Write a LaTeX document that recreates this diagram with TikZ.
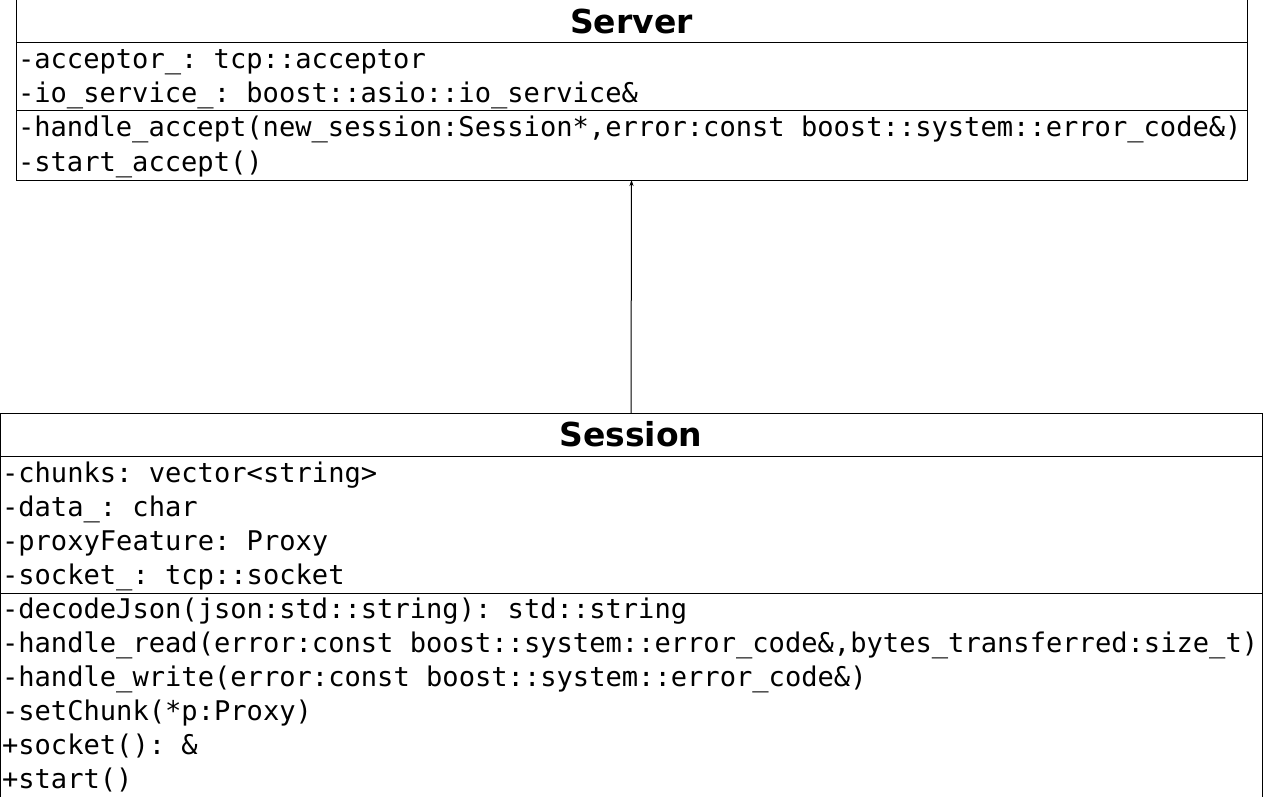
\documentclass[tikz,border=0pt]{standalone}
\usepackage{fontspec}
\setmainfont{DejaVu Sans}
\setmonofont{DejaVu Sans Mono}
\usetikzlibrary{positioning,arrows.meta}
\newskip\ttgap
\ttgap=16.31pt
\tikzset{
  titlebox/.style={draw,line width=1pt,outer sep=0pt,minimum height=43pt,
    font=\bfseries\fontsize{33}{36}\selectfont},
  memberbox/.style={draw,line width=1pt,outer sep=0pt,inner xsep=2pt,inner ysep=0pt,align=left,
    font=\ttfamily\fontsize{27.1}{34}\selectfont,
    execute at begin node={\spaceskip=\ttgap\xspaceskip=\ttgap}}
}
\def\titlenode{\node[titlebox]}
\def\membernode{\node[memberbox]}
\def\topstrut{\rule{0pt}{25.5pt}}
\def\botstrut{\rule[-8.5pt]{0pt}{8.5pt}}

\begin{document}
\begin{tikzpicture}[x=1pt,y=-1pt]
\useasboundingbox (0,0) rectangle (1263,797);
% Server class
\titlenode[minimum width=1231pt] (server) at (631.5,21.5) {Server};
\membernode[minimum width=1231pt,text width=1227pt,minimum height=68pt,below=0pt of server] (serverattr)
  {\topstrut-acceptor\_: tcp::acceptor\\-io\_service\_: boost::asio::io\_service\&\botstrut};
\membernode[minimum width=1231pt,text width=1227pt,minimum height=69pt,below=0pt of serverattr] (serverops)
  {\topstrut-handle\_accept(new\_session:Session*,error:const boost::system::error\_code\&)\\-start\_accept()\botstrut};
% Session class
\titlenode[minimum width=1262pt] (session) at (631,434.5) {Session};
\membernode[minimum width=1262pt,text width=1258pt,minimum height=137pt,below=0pt of session] (sessionattr)
  {\topstrut-chunks: vector<string>\\-data\_: char\\-proxyFeature: Proxy\\-socket\_: tcp::socket\botstrut};
\membernode[minimum width=1262pt,text width=1258pt,minimum height=236pt,below=0pt of sessionattr] (sessionops)
  {\topstrut-decodeJson(json:std::string): std::string\\
   -handle\_read(error:const boost::system::error\_code\&,bytes\_transferred:size\_t)\\
   -handle\_write(error:const boost::system::error\_code\&)\\
   -setChunk(*p:Proxy)\\
   +socket(): \&\\
   +start()\\ \botstrut};
% association
\draw[line width=1pt,-{Stealth[length=6pt,width=4pt]}] (session.north) -- (serverops.south);
\end{tikzpicture}
\end{document}
